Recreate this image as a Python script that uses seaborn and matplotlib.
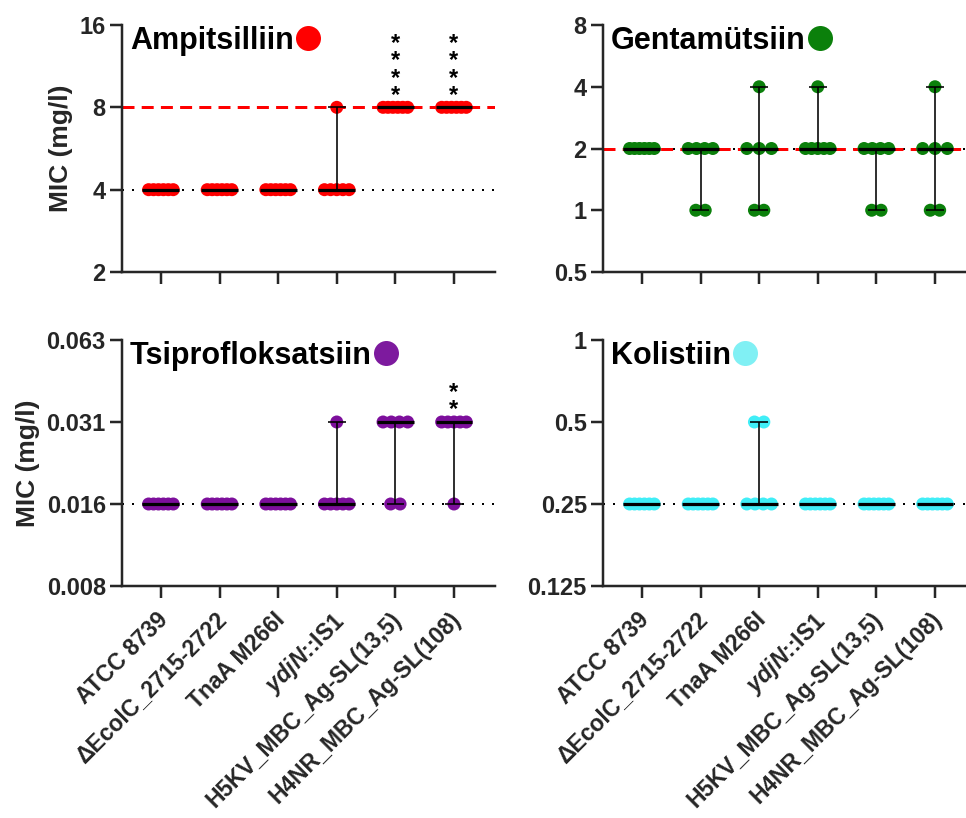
import numpy as np
import pandas as pd
import matplotlib
matplotlib.use("Agg")
import matplotlib.pyplot as plt
import seaborn as sns
from matplotlib.transforms import ScaledTranslation

# ---------------- data ----------------
strains = ["ATCC 8739", "ΔEcolC_2715-2722", "TnaA M266I", "ydjN::IS1",
           "H5KV_MBC_Ag-SL(13,5)", "H4NR_MBC_Ag-SL(108)"]
strain_labels = ["ATCC 8739", "ΔEcolC_2715-2722", "TnaA M266I", r"$\mathit{ydjN}$::IS1",
                 "H5KV_MBC_Ag-SL(13,5)", "H4NR_MBC_Ag-SL(108)"]

ampicillin = [[4, 4, 4, 4, 4, 4], [4, 4, 4, 4, 4, 4], [4, 4, 4, 4, 4, 4],
              [4, 4, 4, 4, 4, 8], [8, 8, 8, 8, 8, 8], [8, 8, 8, 8, 8, 8]]
gentamicin = [[2, 2, 2, 2, 2, 2], [2, 2, 2, 2, 1, 1], [2, 2, 2, 4, 1, 1],
              [2, 2, 2, 2, 2, 4], [2, 2, 2, 2, 1, 1], [2, 2, 2, 4, 1, 1]]
ciprofloxacin = [[0.015625] * 6, [0.015625] * 6, [0.015625] * 6,
                 [0.015625] * 5 + [0.03125], [0.03125] * 4 + [0.015625] * 2,
                 [0.03125] * 5 + [0.015625]]
colistin = [[0.25] * 6, [0.25] * 6, [0.25] * 4 + [0.5] * 2,
            [0.25] * 6, [0.25] * 6, [0.25] * 6]

titles = ["Ampitsilliin", "Gentamütsiin", "Tsiprofloksatsiin", "Kolistiin"]
point_colors = ["#FF0000", "#0B800B", "#7D0F9C", "#40EEF7"]
title_dot_colors = ["#FF0000", "#0B800B", "#7D1A9E", "#80F0F4"]

amp_ticks = [2, 4, 8, 16]
amp_ticklabels = ["2", "4", "8", "16"]
gen_ticks = [0.5, 1, 2, 4, 8]
gen_ticklabels = ["0.5", "1", "2", "4", "8"]
cip_ticks = [0.0078125, 0.015625, 0.03125, 0.0625]
cip_ticklabels = ["0.008", "0.016", "0.031", "0.063"]
col_ticks = [0.125, 0.25, 0.5, 1]
col_ticklabels = ["0.125", "0.25", "0.5", "1"]

# reference (breakpoint / wild-type) lines
amp_red, amp_dot = [8], [4]
gen_red, gen_dot = [2], [2]
cip_red, cip_dot = [], [0.015625]
col_red, col_dot = [], [0.25]

amp_stars = ["", "", "", "", "****", "****"]
gen_stars = [""] * 6
cip_stars = ["", "", "", "", "", "**"]
col_stars = [""] * 6

# ---------------- style ----------------
sns.set_theme(style="ticks")
plt.rcParams["font.family"] = ["Liberation Sans", "DejaVu Sans"]
plt.rcParams["font.weight"] = "bold"
plt.rcParams["mathtext.fontset"] = "custom"
plt.rcParams["mathtext.it"] = "Liberation Sans:italic:bold"
plt.rcParams["mathtext.rm"] = "Liberation Sans:bold"
plt.rcParams["mathtext.bf"] = "Liberation Sans:bold"

W, H = 966, 818
fig = plt.figure(figsize=(W / 100, H / 100), dpi=100)

PX = 0.72  # points per pixel at dpi 100
positions = [
    [122 / W, 1 - 272 / H, 373 / W, 247 / H],
    [603 / W, 1 - 272 / H, 373 / W, 247 / H],
    [122 / W, 1 - 586 / H, 373 / W, 246 / H],
    [603 / W, 1 - 586 / H, 373 / W, 246 / H],
]


def offsets(n):
    if n == 1:
        return np.array([0.0])
    if n == 2:
        return np.array([-0.08, 0.08])
    return np.linspace(-0.21, 0.21, n)


def long_frame(groups):
    rows = []
    for i, vals in enumerate(groups):
        vals = np.asarray(vals, dtype=float)
        for v in np.unique(vals):
            n = int((vals == v).sum())
            for o in offsets(n):
                rows.append({"strain": strains[i], "idx": i, "xpos": i + o, "mic": v})
    return pd.DataFrame(rows)


panels = [
    (ampicillin, amp_ticks, amp_ticklabels, amp_red, amp_dot, amp_stars),
    (gentamicin, gen_ticks, gen_ticklabels, gen_red, gen_dot, gen_stars),
    (ciprofloxacin, cip_ticks, cip_ticklabels, cip_red, cip_dot, cip_stars),
    (colistin, col_ticks, col_ticklabels, col_red, col_dot, col_stars),
]

axes = []
title_texts = []
for k, (groups, ticks, ticklabels, red_lines, dot_lines, stars) in enumerate(panels):
    ax = fig.add_axes(positions[k])
    axes.append(ax)
    df = long_frame(groups)

    ax.set_yscale("log", base=2)
    ax.set_xlim(-0.664, 5.7)
    ax.set_ylim(ticks[0], ticks[-1])

    for y in dot_lines:
        ax.axhline(y, color="black", lw=2.0 * PX, linestyle=(0, (1, 4)), zorder=1)
    for y in red_lines:
        ax.axhline(y, color="#FF0000", lw=3.0 * PX, linestyle=(0, (4, 2.4)), zorder=1.5)

    sns.scatterplot(data=df, x="xpos", y="mic", color=point_colors[k], s=(13 * PX) ** 2,
                    edgecolor="none", linewidth=0, ax=ax, legend=False, zorder=2,
                    clip_on=False)

    # median with range
    for i, vals in enumerate(groups):
        vals = np.asarray(vals, dtype=float)
        med, lo, hi = np.median(vals), vals.min(), vals.max()
        if hi > lo:
            ax.vlines(i, lo, hi, color="black", lw=1.6 * PX, zorder=3)
            ax.hlines([lo, hi], i - 0.15, i + 0.15, color="black", lw=1.6 * PX, zorder=3)
        ax.hlines(med, i - 0.315, i + 0.315, color="black", lw=3.2 * PX, zorder=3.5)
        if stars[i]:
            ax.annotate("\n".join(stars[i]), xy=(i, hi), xytext=(0, 0.5 * PX),
                        textcoords="offset points", ha="center", va="bottom",
                        fontsize=17, fontweight="bold", color="black",
                        linespacing=0.68)

    ax.set_yticks(ticks)
    ax.set_yticklabels(ticklabels)
    ax.yaxis.set_minor_locator(matplotlib.ticker.NullLocator())
    ax.set_xticks(range(len(strains)))

    ax.tick_params(axis="y", length=12 * PX, width=2.5 * PX, labelsize=17, pad=3)
    ax.tick_params(axis="x", length=12 * PX, width=2.5 * PX, labelsize=16.5,
                   pad=10 * PX)
    if k >= 2:
        ax.set_xticklabels(strain_labels, rotation=45, ha="right",
                           rotation_mode="anchor", va="top")
        for lab in ax.get_xticklabels():
            lab.set_transform(lab.get_transform() +
                              ScaledTranslation(-5 / 100, 0, fig.dpi_scale_trans))
    else:
        ax.set_xticklabels([])
    for lab in ax.get_yticklabels() + ax.get_xticklabels():
        lab.set_fontweight("bold")

    sns.despine(ax=ax)
    ax.spines["left"].set_linewidth(2.5 * PX)
    ax.spines["bottom"].set_linewidth(2.5 * PX)
    ax.spines["bottom"].set_clip_on(False)
    ax.set_xlabel("")
    if k % 2 == 0:
        ax.set_ylabel("MIC (mg/l)", fontsize=19, fontweight="bold", labelpad=5)
    else:
        ax.set_ylabel("")

    t = ax.annotate(titles[k], xy=(0, 1), xycoords="axes fraction",
                    xytext=(8 * PX, -24 * PX), textcoords="offset points",
                    ha="left", va="baseline", fontsize=22, fontweight="bold",
                    color="black")
    title_texts.append(t)

fig.canvas.draw()
renderer = fig.canvas.get_renderer()
for k, ax in enumerate(axes):
    bb = title_texts[k].get_window_extent(renderer)
    ax_bb = ax.get_window_extent(renderer)
    cx = bb.x1 + 1.5 + 12.5
    cy = ax_bb.y1 - 13
    xa, ya = ax.transAxes.inverted().transform((cx, cy))
    ax.plot([xa], [ya], marker="o", markersize=25 * PX, color=title_dot_colors[k],
            markeredgewidth=0, transform=ax.transAxes, clip_on=False, zorder=5)

fig.savefig("out.png", dpi=100)
